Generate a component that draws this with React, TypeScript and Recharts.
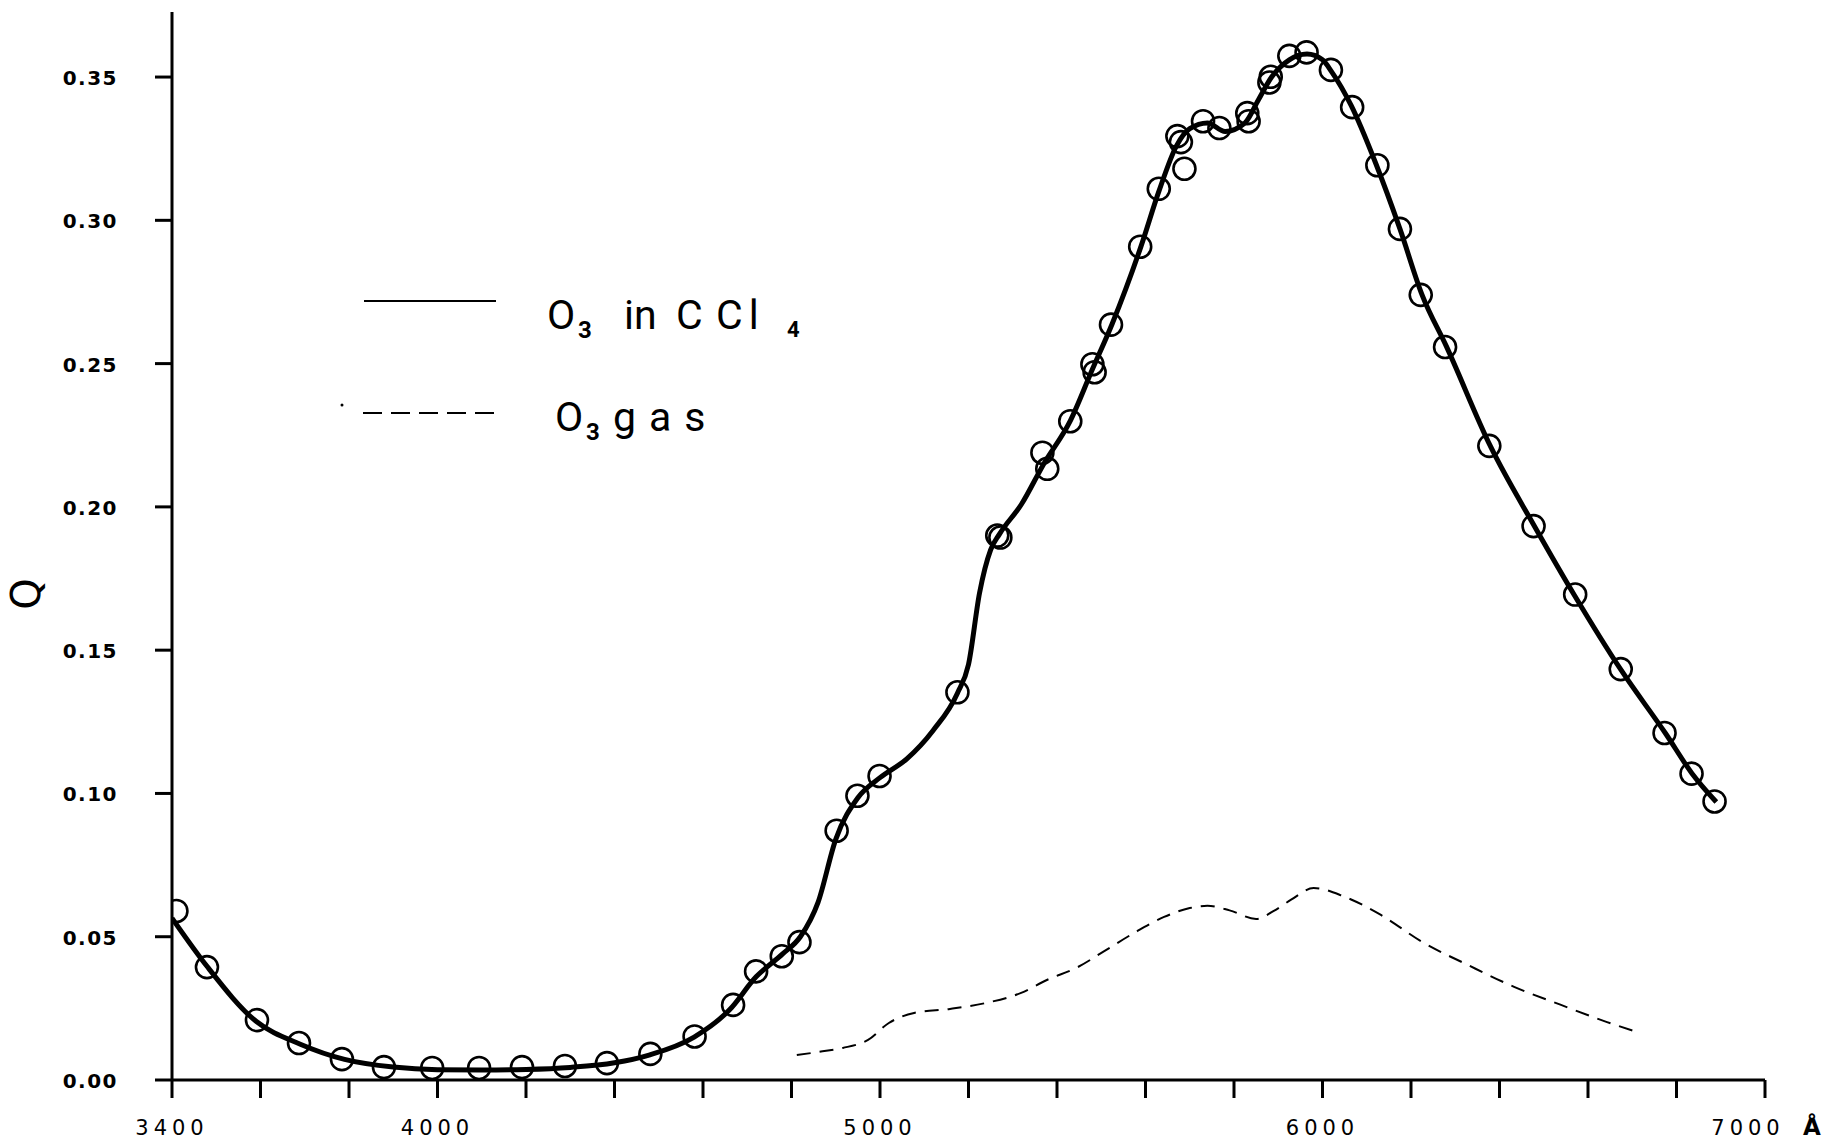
import { ComposedChart, Line, Scatter, XAxis, YAxis } from "recharts";

// measured points (circles), wavelength in Å
const circleWavelengths = [
  3410, 3479, 3592, 3687, 3784, 3879, 3988, 4094, 4191, 4288, 4383, 4481, 4581, 4668, 4720, 4778,
  4818, 4902, 4949, 4999, 5175, 5265, 5272, 5367, 5378, 5430, 5480, 5485, 5522, 5588, 5630, 5672,
  5680, 5688, 5730, 5767, 5830, 5833, 5883, 5880, 5925, 5964, 6019, 6067, 6124, 6175, 6222, 6277,
  6377, 6477, 6571, 6674, 6773, 6834, 6886,
];
const circleValues = [
  0.059, 0.0394, 0.0209, 0.0129, 0.0073, 0.0045, 0.0042, 0.0042, 0.0045, 0.0049, 0.0059, 0.0091,
  0.0152, 0.0262, 0.0379, 0.0432, 0.0481, 0.087, 0.0992, 0.1061, 0.1353, 0.19, 0.1893, 0.2189,
  0.2133, 0.2299, 0.2498, 0.247, 0.2636, 0.2908, 0.311, 0.3294, 0.3273, 0.318, 0.3346, 0.3322,
  0.3374, 0.3346, 0.3501, 0.3481, 0.3574, 0.3586, 0.3525, 0.3395, 0.3192, 0.297, 0.274, 0.2558,
  0.2213, 0.1933, 0.1694, 0.1434, 0.1211, 0.1069, 0.0972,
];

// O3 in CCl4, drawn curve
const solidWavelengths = [
  3400, 3480, 3590, 3690, 3790, 3900, 4000, 4100, 4200, 4300, 4400, 4480, 4580, 4660, 4720, 4780,
  4820, 4860, 4900, 4950, 5000, 5060, 5120, 5175, 5200, 5225, 5250, 5270, 5320, 5370, 5430, 5480,
  5525, 5590, 5630, 5670, 5700, 5740, 5780, 5825, 5855, 5885, 5925, 5965, 6000, 6020, 6065, 6120,
  6175, 6225, 6280, 6380, 6480, 6570, 6675, 6775, 6835, 6890,
];
const solidValues = [
  0.0565, 0.0395, 0.0205, 0.0125, 0.0072, 0.0045, 0.0036, 0.0035, 0.0037, 0.0044, 0.006, 0.0088,
  0.015, 0.0245, 0.036, 0.044, 0.05, 0.062, 0.084, 0.0985, 0.1055, 0.112, 0.122, 0.135, 0.145,
  0.17, 0.185, 0.1905, 0.201, 0.215, 0.23, 0.248, 0.264, 0.291, 0.31, 0.326, 0.332, 0.334, 0.331,
  0.334, 0.342, 0.35, 0.356, 0.358, 0.356, 0.352, 0.34, 0.32, 0.297, 0.274, 0.256, 0.221, 0.193,
  0.169, 0.143, 0.121, 0.107, 0.097,
];

// O3 gas, dashed curve
const gasWavelengths = [
  4812, 4870, 4916, 4973, 5020, 5077, 5158, 5240, 5319, 5377, 5447, 5504, 5574, 5642, 5700, 5740,
  5790, 5850, 5890, 5930, 5980, 6049, 6132, 6225, 6329, 6433, 6539, 6643, 6710,
];
const gasValues = [
  0.0087, 0.01, 0.0112, 0.014, 0.0199, 0.0234, 0.0248, 0.0269, 0.0304, 0.0349, 0.0394, 0.0447,
  0.0513, 0.0569, 0.06, 0.0608, 0.0592, 0.0562, 0.059, 0.063, 0.067, 0.064, 0.0576, 0.0482, 0.0401,
  0.0325, 0.0262, 0.0202, 0.0168,
];

const xTicks = [3400, 3600, 3800, 4000, 4200, 4400, 4600, 4800, 5000, 5200, 5400, 5600, 5800, 6000, 6200, 6400, 6600, 6800, 7000];
const xLabeled = [3400, 4000, 5000, 6000, 7000];
const yTicks = [0, 0.05, 0.1, 0.15, 0.2, 0.25, 0.3, 0.35];

const circles = circleWavelengths.map((lambda, i) => ({ lambda, q: circleValues[i] }));
const solid = solidWavelengths.map((lambda, i) => ({ lambda, q: solidValues[i] }));
const gas = gasWavelengths.map((lambda, i) => ({ lambda, q: gasValues[i] }));

const FONT = "'DejaVu Sans', sans-serif";
const LEGEND_FONT = "Roboto, sans-serif";

function XTick(props: any) {
  const { x, y, payload } = props;
  if (!xLabeled.includes(payload.value)) return null;
  const last = payload.value === 7000;
  return (
    <g>
      <text x={last ? x - 17 : x} y={y + 35} textAnchor="middle" fontFamily={FONT} fontSize={21} letterSpacing={5} fill="#000">
        {payload.value}
      </text>
      {last && (
        <text x={x + 38} y={y + 35} fontFamily={FONT} fontSize={23} fontWeight="bold" fill="#000">
          Å
        </text>
      )}
    </g>
  );
}

function YTick(props: any) {
  const { x, y, payload } = props;
  return (
    <text x={x - 9} y={y + 8} textAnchor="end" fontFamily={FONT} fontSize={20} fontWeight="bold" letterSpacing={1.5} fill="#000">
      {payload.value.toFixed(2)}
    </text>
  );
}

function Ring(props: any) {
  const { cx, cy } = props;
  return <circle cx={cx} cy={cy} r={11} fill="none" stroke="#000" strokeWidth={2.6} />;
}

export default function App() {
  return (
    <div style={{ position: "absolute", left: 0, top: 0, width: 1824, height: 1140, background: "#fff" }}>
      <ComposedChart width={1824} height={1140} margin={{ top: 12, right: 59, bottom: 0, left: 72 }}>
        <XAxis
          type="number"
          dataKey="lambda"
          domain={[3400, 7000]}
          ticks={xTicks}
          allowDataOverflow
          height={60}
          tickSize={18}
          tickMargin={2}
          tick={<XTick />}
          axisLine={{ stroke: "#000", strokeWidth: 3 }}
          tickLine={{ stroke: "#000", strokeWidth: 3 }}
        />
        <YAxis
          type="number"
          dataKey="q"
          domain={[0, 0.3727]}
          ticks={yTicks}
          allowDataOverflow
          width={100}
          tickSize={17}
          tickMargin={28}
          tick={<YTick />}
          axisLine={{ stroke: "#000", strokeWidth: 3 }}
          tickLine={{ stroke: "#000", strokeWidth: 3 }}
        />
        <Line
          data={gas}
          dataKey="q"
          type="monotone"
          stroke="#000"
          strokeWidth={2}
          strokeDasharray="14 9"
          dot={false}
          isAnimationActive={false}
        />
        <Line
          data={solid}
          dataKey="q"
          type="monotone"
          stroke="#000"
          strokeWidth={5}
          dot={false}
          isAnimationActive={false}
        />
        <Scatter data={circles} dataKey="q" shape={<Ring />} isAnimationActive={false} />
      </ComposedChart>

      <svg width={1824} height={1140} style={{ position: "absolute", left: 0, top: 0, pointerEvents: "none" }}>
        <text x={26} y={594} transform="rotate(-90 26 594)" textAnchor="middle" dominantBaseline="central" fontFamily={FONT} fontSize={40} fill="#000">
          Q
        </text>

        <line x1={364} y1={301} x2={496} y2={301} stroke="#000" strokeWidth={2.2} />
        <text y={329} fontFamily={LEGEND_FONT} fontSize={41} fill="#000">
          <tspan x={547}>O</tspan>
          <tspan x={578} dy={9} fontSize={24} fontWeight="bold">3</tspan>
          <tspan x={624} dy={-9}>in</tspan>
          <tspan x={676}>C</tspan>
          <tspan x={716} letterSpacing={6}>Cl</tspan>
          <tspan x={787} dy={8} fontSize={22} fontWeight="bold">4</tspan>
        </text>

        <circle cx={342} cy={405} r={1.5} fill="#000" />
        <line x1={363} y1={413} x2={496} y2={413} stroke="#000" strokeWidth={2.2} strokeDasharray="19 9" />
        <text y={431} fontFamily={LEGEND_FONT} fontSize={41} fill="#000">
          <tspan x={555}>O</tspan>
          <tspan x={586} dy={9} fontSize={24} fontWeight="bold">3</tspan>
          <tspan x={613} dy={-9} letterSpacing={13}>gas</tspan>
        </text>
      </svg>
    </div>
  );
}
